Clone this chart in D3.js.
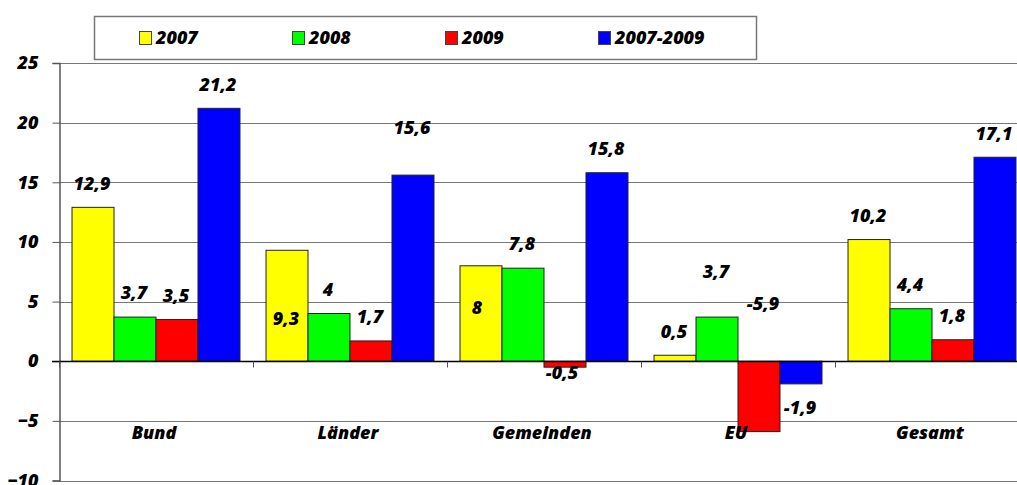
<!DOCTYPE html>
<html>
<head>
<meta charset="utf-8">
<script src="https://cdnjs.cloudflare.com/ajax/libs/d3/7.8.5/d3.min.js"></script>
<style>
  body { margin: 0; background: #fff; }
  svg { display: block; }
  text { font-family: "Open Sans", Lato, sans-serif; font-weight: 800; font-style: italic; fill: #000; }
</style>
</head>
<body>
<div class="content"></div>
<script>
var size = {width: 1017, height: 485};
var plotBox = {left: 59, right: 1029, top: 63, bottom: 480.5};

var categories = ["Bund", "Länder", "Gemeinden", "EU", "Gesamt"];
var series = ["2007", "2008", "2009", "2007-2009"];
var colors = ["#ffff00", "#00ff00", "#ff0000", "#0000ff"];
var values2007 = [12.9, 9.3, 8, 0.5, 10.2];
var values2008 = [3.7, 4, 7.8, 3.7, 4.4];
var values2009 = [3.5, 1.7, -0.5, -5.9, 1.8];
var values0709 = [21.2, 15.6, 15.8, -1.9, 17.1];
var yTicks = [-10, -5, 0, 5, 10, 15, 20, 25];

// extra label shifts [dx, dy] in px, where the original moved a label off its default spot
var labelNudge = {
  "Länder|2007": [0, 92],
  "Länder|2007-2009": [0, -23],
  "Gemeinden|2007": [-3, 66],
  "Gemeinden|2009": [-2, -18],
  "EU|2008": [0, -21],
  "EU|2009": [5, -152]
};

var allValues = [values2007, values2008, values2009, values0709];
var rows = [];
categories.forEach(function(c, i) {
  series.forEach(function(s, j) {
    rows.push({cat: c, ser: s, idx: j, v: allValues[j][i]});
  });
});

var svg = d3.select('.content').append('svg')
  .attr('width', size.width)
  .attr('height', size.height);

var x0 = d3.scaleBand().domain(categories).range([plotBox.left, plotBox.right]);
var x1 = d3.scaleBand().domain(series).range([0, x0.bandwidth()]).paddingOuter(0.31);
var y = d3.scaleLinear().domain([-10, 25]).range([plotBox.bottom, plotBox.top]);

// horizontal grid lines
svg.append('g').selectAll('line.grid')
  .data(yTicks.filter(function(t) { return t !== 0; }))
  .enter().append('line')
  .attr('class', 'grid')
  .attr('x1', plotBox.left).attr('x2', size.width)
  .attr('y1', function(d) { return Math.round(y(d)) + 0.5; })
  .attr('y2', function(d) { return Math.round(y(d)) + 0.5; })
  .attr('stroke', '#777').attr('stroke-width', 1);

// y axis
var yAxis = d3.axisLeft(y).tickValues(yTicks).tickSize(7).tickPadding(14);
var yAxisObj = svg.append('g')
  .attr('transform', 'translate(' + (plotBox.left + 0.5) + ',0)')
  .call(yAxis);
yAxisObj.select('.domain').attr('stroke', '#555').attr('stroke-width', 1.5);
yAxisObj.selectAll('.tick line').attr('stroke', '#555');
yAxisObj.selectAll('.tick text')
  .style('font-size', '18px')
  .attr('fill', '#000');

// bars
svg.append('g').selectAll('rect.bar')
  .data(rows)
  .enter().append('rect')
  .attr('class', 'bar')
  .attr('x', function(d) { return x0(d.cat) + x1(d.ser); })
  .attr('width', x1.bandwidth())
  .attr('y', function(d) { return y(Math.max(0, d.v)); })
  .attr('height', function(d) { return Math.abs(y(d.v) - y(0)); })
  .attr('fill', function(d) { return colors[d.idx]; })
  .attr('stroke', '#222')
  .attr('stroke-width', 1);

// zero line and category ticks
var zeroY = Math.round(y(0)) + 0.5;
svg.append('line')
  .attr('x1', plotBox.left - 7).attr('x2', size.width)
  .attr('y1', zeroY).attr('y2', zeroY)
  .attr('stroke', '#000').attr('stroke-width', 1.5);
svg.append('g').selectAll('line.xtick')
  .data(categories)
  .enter().append('line')
  .attr('class', 'xtick')
  .attr('x1', function(d) { return Math.round(x0(d)) + 0.5; })
  .attr('x2', function(d) { return Math.round(x0(d)) + 0.5; })
  .attr('y1', zeroY).attr('y2', zeroY + 6)
  .attr('stroke', '#555');

// category labels
svg.append('g').selectAll('text.cat')
  .data(categories)
  .enter().append('text')
  .attr('class', 'cat')
  .attr('x', function(d) { return x0(d) + x0.bandwidth() / 2 - 2; })
  .attr('y', 433)
  .attr('dy', '0.35em')
  .attr('text-anchor', 'middle')
  .style('font-size', '18px')
  .text(function(d) { return d; });

// value labels
svg.append('g').selectAll('text.val')
  .data(rows)
  .enter().append('text')
  .attr('class', 'val')
  .attr('x', function(d) {
    var n = labelNudge[d.cat + '|' + d.ser] || [0, 0];
    return x0(d.cat) + x1(d.ser) + x1.bandwidth() / 2 - 1 + n[0];
  })
  .attr('y', function(d) {
    var n = labelNudge[d.cat + '|' + d.ser] || [0, 0];
    return (d.v >= 0 ? y(d.v) - 24 : y(d.v) + 24) + n[1];
  })
  .attr('dy', '0.35em')
  .attr('text-anchor', 'middle')
  .style('font-size', '18px')
  .text(function(d) { return String(d.v).replace('.', ','); });

// legend
var legend = svg.append('g');
legend.append('rect')
  .attr('x', 94.5).attr('y', 16.5)
  .attr('width', 662).attr('height', 43)
  .attr('fill', '#fff')
  .attr('stroke', '#777').attr('stroke-width', 1.5);
var items = legend.selectAll('g.item')
  .data(series)
  .enter().append('g')
  .attr('class', 'item')
  .attr('transform', function(d, i) { return 'translate(' + (139 + i * 153) + ',31)'; });
items.append('rect')
  .attr('x', 0.5).attr('y', 0.5)
  .attr('width', 12).attr('height', 13)
  .attr('fill', function(d, i) { return colors[i]; })
  .attr('stroke', '#444');
items.append('text')
  .attr('x', 17).attr('y', 7)
  .attr('dy', '0.35em')
  .style('font-size', '18px')
  .text(function(d) { return d; });
</script>
</body>
</html>
